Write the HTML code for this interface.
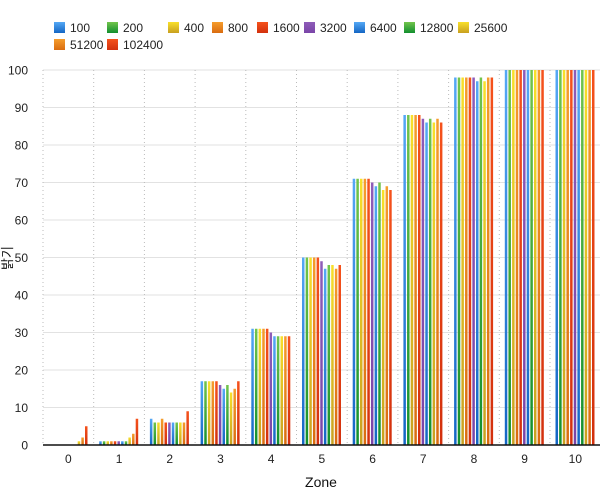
<!DOCTYPE html>
<html><head><meta charset="utf-8"><style>
body{margin:0;background:#fff;}
svg{display:block;font-family:"Liberation Sans","Noto Sans CJK KR",sans-serif;}
</style></head><body>
<svg id="c" width="600" height="498" xmlns="http://www.w3.org/2000/svg">
<defs>
<linearGradient id="g0" x1="0" y1="0" x2="0" y2="1"><stop offset="0" stop-color="#55a8f5"/><stop offset="1" stop-color="#1466c4"/></linearGradient>
<linearGradient id="g1" x1="0" y1="0" x2="0" y2="1"><stop offset="0" stop-color="#72c44c"/><stop offset="1" stop-color="#128f2e"/></linearGradient>
<linearGradient id="g2" x1="0" y1="0" x2="0" y2="1"><stop offset="0" stop-color="#f8e02a"/><stop offset="1" stop-color="#c9a020"/></linearGradient>
<linearGradient id="g3" x1="0" y1="0" x2="0" y2="1"><stop offset="0" stop-color="#f59d2c"/><stop offset="1" stop-color="#d96c10"/></linearGradient>
<linearGradient id="g4" x1="0" y1="0" x2="0" y2="1"><stop offset="0" stop-color="#f5521c"/><stop offset="1" stop-color="#d2300d"/></linearGradient>
<linearGradient id="g5" x1="0" y1="0" x2="0" y2="1"><stop offset="0" stop-color="#8e5cb8"/><stop offset="1" stop-color="#7a45a8"/></linearGradient>
</defs>
</svg>
<script>
var s=document.getElementById('c'),h='';
var fills=['g0','g1','g2','g3','g4','g5','g0','g1','g2','g3','g4'];
var names=['100','200','400','800','1600','3200','6400','12800','25600','51200','102400'];
var data=[[0,0,0,0,0,0,0,0,1,2,5],[1,1,1,1,1,1,1,1,2,3,7],[7,6,6,7,6,6,6,6,6,6,9],
[17,17,17,17,17,16,15,16,14,15,17],[31,31,31,31,31,30,29,29,29,29,29],[50,50,50,50,50,49,47,48,48,47,48],
[71,71,71,71,71,70,69,70,68,69,68],[88,88,88,88,88,87,86,87,86,87,86],[98,98,98,98,98,98,97,98,97,98,98],
[100,100,100,100,100,100,100,100,100,100,100],[100,100,100,100,100,100,100,100,100,100,100]];
var X0=43,W=50.7,Y0=445,K=3.75;
for(var i=0;i<=10;i++){var y=Y0-i*10*K;
 if(i>0)h+='<line x1="'+X0+'" x2="600" y1="'+y+'" y2="'+y+'" stroke="#e2e2e2" stroke-width="1"/>';
 h+='<text x="28" y="'+(y+4.5)+'" font-size="12" text-anchor="end" fill="#222">'+(i*10)+'</text>';}
for(var z=0;z<=11;z++){var x=X0+z*W;
 h+='<line x1="'+x+'" x2="'+x+'" y1="70" y2="'+Y0+'" stroke="#bbb" stroke-dasharray="1,3"/>';}
for(var z=0;z<11;z++){var bx=X0+z*W+5.5;
 for(var k=0;k<11;k++){var v=data[z][k];if(v<=0)continue;var bh=v*K;
  h+='<rect x="'+(bx+k*3.65).toFixed(2)+'" y="'+(Y0-bh)+'" width="2.5" height="'+bh+'" fill="url(#'+fills[k]+')"/>';}
 h+='<text x="'+(X0+z*W+W/2)+'" y="463" font-size="12" text-anchor="middle" fill="#222">'+z+'</text>';}
h+='<line x1="'+X0+'" x2="600" y1="'+Y0+'" y2="'+Y0+'" stroke="#111" stroke-width="1.5"/>';
h+='<text x="321" y="487" font-size="14" text-anchor="middle" fill="#111">Zone</text>';
h+='<text transform="translate(12,258) rotate(-90)" font-size="13" text-anchor="middle" fill="#111">밝기</text>';
var lx=[54,107,168,212,257,304,354,404,458,54,107],ly=[22,22,22,22,22,22,22,22,22,39,39];
for(var k=0;k<11;k++){h+='<rect x="'+lx[k]+'" y="'+ly[k]+'" width="11" height="11" fill="url(#'+fills[k]+')"/>';
 h+='<text x="'+(lx[k]+16)+'" y="'+(ly[k]+10)+'" font-size="12" fill="#222">'+names[k]+'</text>';}
s.innerHTML+=h;
</script>
</body></html>
